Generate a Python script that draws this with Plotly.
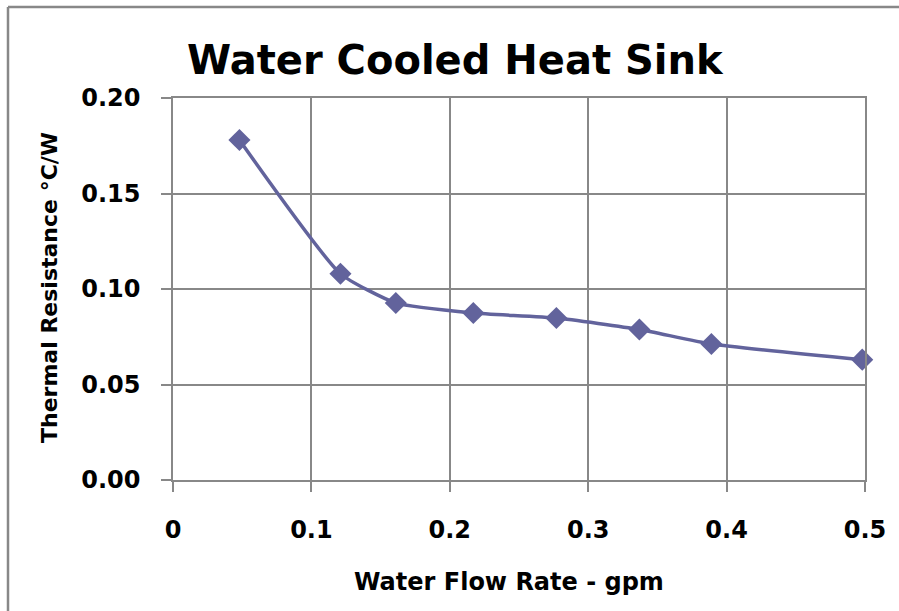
import plotly.graph_objects as go

flow_gpm = [0.048, 0.121, 0.161, 0.217, 0.277, 0.337, 0.389, 0.498]
thermal_res = [0.178, 0.108, 0.0927, 0.0874, 0.0848, 0.0788, 0.0712, 0.0630]
x_ticks = [0, 0.1, 0.2, 0.3, 0.4, 0.5]
x_tick_labels = ["0", "0.1", "0.2", "0.3", "0.4", "0.5"]
y_ticks = [0.0, 0.05, 0.10, 0.15, 0.20]
y_tick_labels = ["0.00", "0.05", "0.10", "0.15", "0.20"]

color = "#62639C"
grid = "#888888"
font_family = "'DejaVu Sans', sans-serif"

fig = go.Figure()
fig.add_trace(go.Scatter(
    x=flow_gpm, y=thermal_res, mode="lines+markers",
    line=dict(color=color, width=3.5, shape="spline", smoothing=0.5),
    marker=dict(symbol="diamond", size=17, color=color),
    showlegend=False, cliponaxis=False,
))

L, R, T, B = 173, 865, 98, 480
W, H = 899, 611
pw, ph = R - L, B - T

def px(xp):
    return (xp - L) / pw

def py(yp):
    return (B - yp) / ph

axis_common = dict(
    showgrid=True, gridcolor=grid, gridwidth=1.5,
    showline=True, linecolor=grid, linewidth=1.5, mirror=True,
    ticks="outside", ticklen=10, tickcolor=grid, tickwidth=1.5,
    tickfont=dict(size=24, family=font_family, weight="bold"),
    zeroline=False,
)

fig.update_layout(
    width=W, height=H,
    margin=dict(l=L, r=W - R, t=T, b=H - B, pad=0),
    paper_bgcolor="white", plot_bgcolor="white",
    font=dict(family=font_family, color="black"),
    xaxis=dict(range=[0, 0.5], tickvals=x_ticks, ticktext=x_tick_labels,
               ticklabelstandoff=17, **axis_common),
    yaxis=dict(range=[0, 0.2], tickvals=y_ticks, ticktext=y_tick_labels,
               ticklabelstandoff=16, **axis_common),
    shapes=[
        dict(type="line", xref="paper", yref="paper",
             x0=px(8), x1=px(8), y0=py(7), y1=py(620),
             line=dict(color=grid, width=2.5)),
        dict(type="line", xref="paper", yref="paper",
             x0=px(8), x1=px(905), y0=py(7), y1=py(7),
             line=dict(color=grid, width=2.5)),
    ],
    annotations=[
        dict(text="<b>Water Cooled Heat Sink</b>", xref="paper", yref="paper",
             x=px(455), y=py(60), showarrow=False, xanchor="center", yanchor="middle",
             font=dict(size=40, family=font_family)),
        dict(text="<b>Water Flow Rate - gpm</b>", xref="paper", yref="paper",
             x=px(509), y=py(582), showarrow=False, xanchor="center", yanchor="middle",
             font=dict(size=24, family=font_family)),
        dict(text="<b>Thermal Resistance °C/W</b>", xref="paper", yref="paper",
             x=px(49), y=py(288), showarrow=False, xanchor="center", yanchor="middle",
             textangle=-90, font=dict(size=22, family=font_family)),
    ],
)

fig.write_html("out.html", config={"displayModeBar": False},
               post_script="document.body.style.margin='0';")
